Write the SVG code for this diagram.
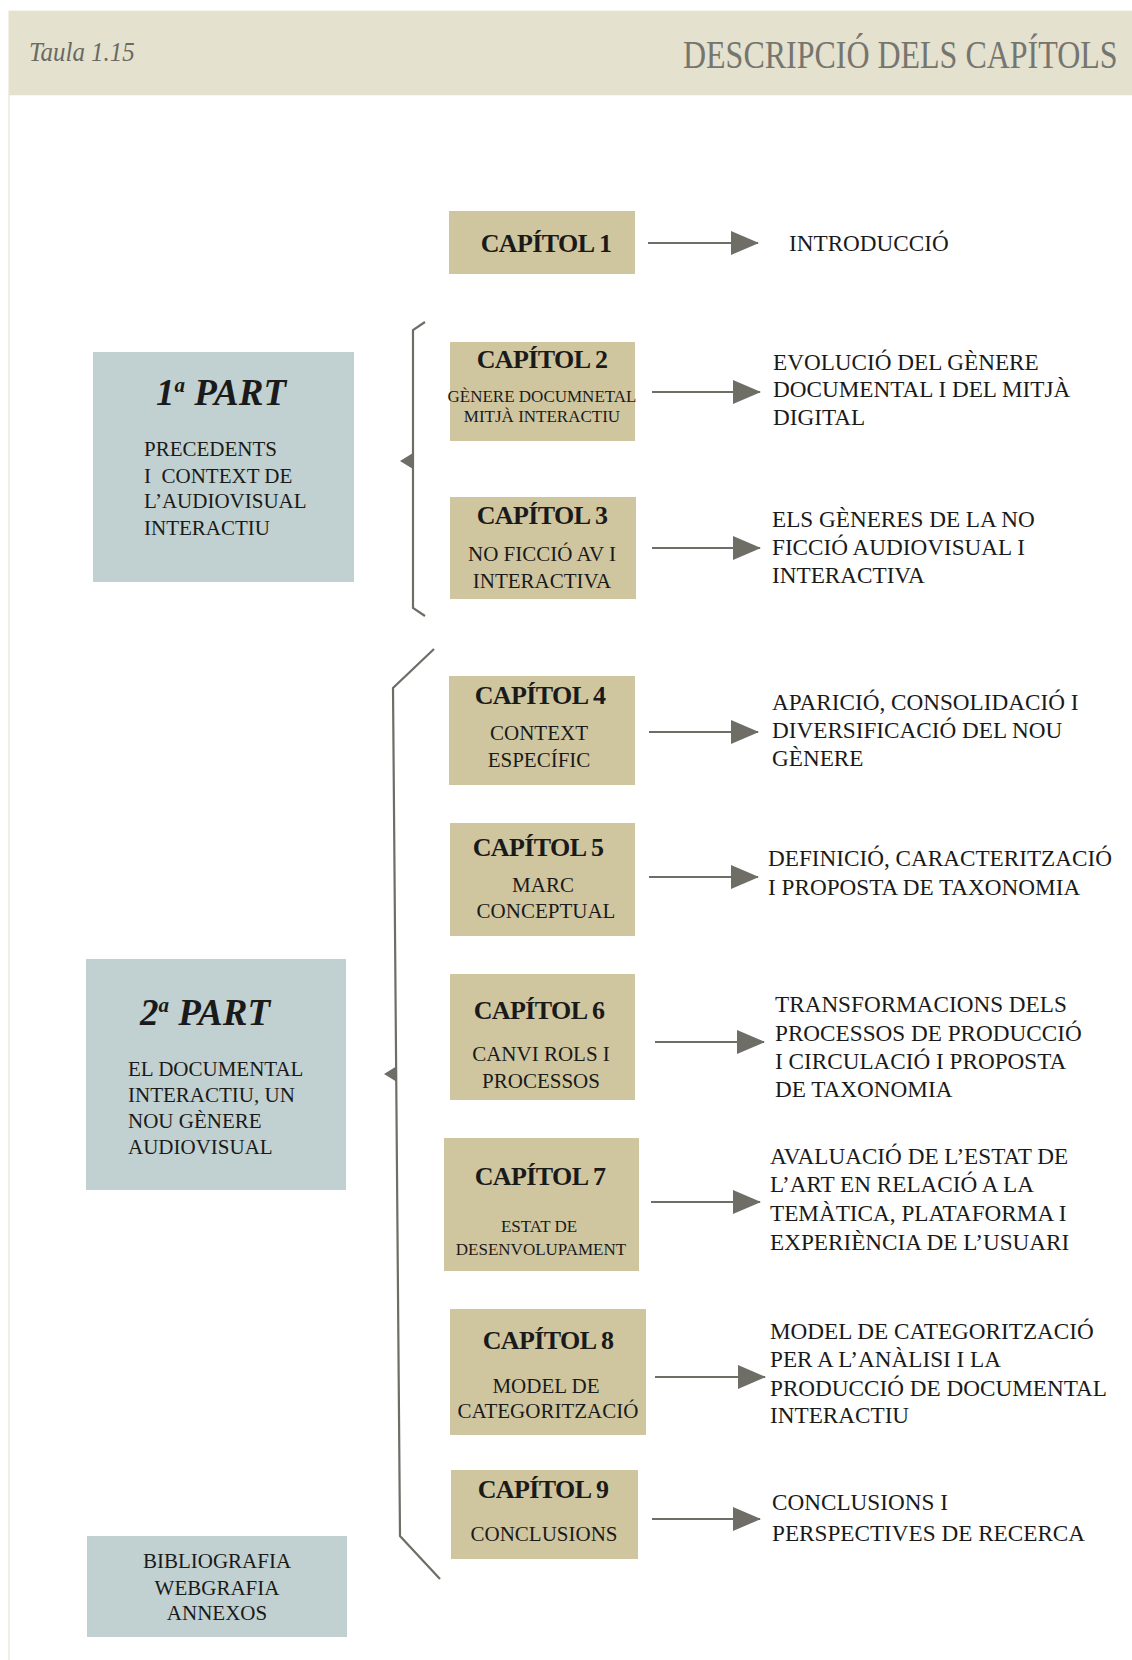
<svg xmlns="http://www.w3.org/2000/svg" width="1132" height="1660" viewBox="0 0 1132 1660">
<defs>
<style>
.chap{fill:#cfc6a0}
.part{fill:#c1d0d0}
.t{font-family:"Liberation Serif","Times New Roman",serif;fill:#1a1a1a}
.ct{font-weight:bold;font-size:26px;letter-spacing:-0.6px;text-anchor:middle}
.cs{font-size:21px;text-anchor:middle}
.css{font-size:17px;text-anchor:middle}
.desc{font-size:23.2px}
.ps{font-size:21px}
.ph{font-weight:bold;font-style:italic;font-size:37px}
.con{stroke:#6e6d66;stroke-width:2.2;fill:none}
</style>
<marker id="ah" viewBox="0 0 28 24" refX="27" refY="12" markerWidth="28" markerHeight="24" markerUnits="userSpaceOnUse" orient="auto">
<path d="M0,0 L28,12 L0,24 Z" fill="#6e6d66"/>
</marker>
</defs>
<rect width="1132" height="1660" fill="#ffffff"/>
<g id="header">
<rect x="8.5" y="10.6" width="1123.5" height="84.7" fill="#e4e1cf"/>
<line x1="9" y1="95" x2="9" y2="1660" stroke="#e6e3d6" stroke-width="1.2"/>
<text transform="translate(29,61) scale(0.89,1)" x="0" y="0" font-family="Liberation Serif, serif" font-style="italic" font-size="28" fill="#6a6a62">Taula 1.15</text>
<text transform="translate(683,68) scale(0.78,1)" x="0" y="0" font-family="Liberation Serif, serif" font-size="41" fill="#76756e">DESCRIPCIÓ DELS CAPÍTOLS</text>
</g>
<g id="connectors">
<path class="con" d="M425,322 L413,330 L413,608 L425,616"/>
<path d="M413,453 L400,461 L413,469 Z" fill="#6e6d66"/>
<path class="con" d="M434,649 L393,688 L400,1536 L440,1579"/>
<path d="M397,1066 L384,1074 L397,1082 Z" fill="#6e6d66"/>
<line class="con" x1="648" y1="243" x2="758" y2="243" marker-end="url(#ah)"/>
<line class="con" x1="652" y1="392" x2="760" y2="392" marker-end="url(#ah)"/>
<line class="con" x1="652" y1="548" x2="760" y2="548" marker-end="url(#ah)"/>
<line class="con" x1="649" y1="732" x2="758" y2="732" marker-end="url(#ah)"/>
<line class="con" x1="649" y1="877" x2="758" y2="877" marker-end="url(#ah)"/>
<line class="con" x1="655" y1="1042" x2="764" y2="1042" marker-end="url(#ah)"/>
<line class="con" x1="651" y1="1202" x2="760" y2="1202" marker-end="url(#ah)"/>
<line class="con" x1="655" y1="1377" x2="765" y2="1377" marker-end="url(#ah)"/>
<line class="con" x1="652" y1="1519" x2="760" y2="1519" marker-end="url(#ah)"/>
</g>
<g id="part1">
<rect class="part" x="93" y="352" width="261" height="230"/>
<text class="t ph" x="156" y="405">1<tspan font-size="21" dy="-13">a</tspan><tspan dy="13"> PART</tspan></text>
<text class="t ps" x="144" y="456">PRECEDENTS</text>
<text class="t ps" x="144" y="483">I&#160; CONTEXT DE</text>
<text class="t ps" x="144" y="508">L’AUDIOVISUAL</text>
<text class="t ps" x="144" y="535">INTERACTIU</text>
</g>
<g id="part2">
<rect class="part" x="86" y="959" width="260" height="231"/>
<text class="t ph" x="140" y="1025">2<tspan font-size="21" dy="-13">a</tspan><tspan dy="13"> PART</tspan></text>
<text class="t ps" x="128" y="1076">EL DOCUMENTAL</text>
<text class="t ps" x="128" y="1102">INTERACTIU, UN</text>
<text class="t ps" x="128" y="1128">NOU GÈNERE</text>
<text class="t ps" x="128" y="1154">AUDIOVISUAL</text>
</g>
<g id="annexes">
<rect class="part" x="87" y="1536" width="260" height="101"/>
<text class="t ps" x="217" y="1568" text-anchor="middle">BIBLIOGRAFIA</text>
<text class="t ps" x="217" y="1595" text-anchor="middle">WEBGRAFIA</text>
<text class="t ps" x="217" y="1620" text-anchor="middle">ANNEXOS</text>
</g>
<g id="cap1">
<rect class="chap" x="449" y="211" width="186" height="63"/>
<text class="t ct" x="546" y="252">CAPÍTOL 1</text>
</g>
<g id="cap2">
<rect class="chap" x="450" y="342" width="185" height="99"/>
<text class="t ct" x="542" y="368">CAPÍTOL 2</text>
<text class="t css" x="542" y="402">GÈNERE DOCUMNETAL</text>
<text class="t css" x="542" y="422">MITJÀ INTERACTIU</text>
</g>
<g id="cap3">
<rect class="chap" x="450" y="497" width="186" height="102"/>
<text class="t ct" x="542" y="524">CAPÍTOL 3</text>
<text class="t cs" x="542" y="561">NO FICCIÓ AV I</text>
<text class="t cs" x="542" y="588">INTERACTIVA</text>
</g>
<g id="cap4">
<rect class="chap" x="449" y="676" width="186" height="109"/>
<text class="t ct" x="540" y="704">CAPÍTOL 4</text>
<text class="t cs" x="539" y="740">CONTEXT</text>
<text class="t cs" x="539" y="767">ESPECÍFIC</text>
</g>
<g id="cap5">
<rect class="chap" x="450" y="823" width="185" height="113"/>
<text class="t ct" x="538" y="856">CAPÍTOL 5</text>
<text class="t cs" x="543" y="892">MARC</text>
<text class="t cs" x="546" y="918">CONCEPTUAL</text>
</g>
<g id="cap6">
<rect class="chap" x="450" y="974" width="185" height="126"/>
<text class="t ct" x="539" y="1019">CAPÍTOL 6</text>
<text class="t cs" x="541" y="1061">CANVI ROLS I</text>
<text class="t cs" x="541" y="1088">PROCESSOS</text>
</g>
<g id="cap7">
<rect class="chap" x="444" y="1138" width="195" height="133"/>
<text class="t ct" x="540" y="1185">CAPÍTOL 7</text>
<text class="t css" x="539" y="1232" font-size="19.5">ESTAT DE</text>
<text class="t css" x="541" y="1255" font-size="19.5">DESENVOLUPAMENT</text>
</g>
<g id="cap8">
<rect class="chap" x="450" y="1309" width="196" height="126"/>
<text class="t ct" x="548" y="1349">CAPÍTOL 8</text>
<text class="t cs" x="546" y="1393">MODEL DE</text>
<text class="t cs" x="548" y="1418">CATEGORITZACIÓ</text>
</g>
<g id="cap9">
<rect class="chap" x="451" y="1470" width="187" height="89"/>
<text class="t ct" x="543" y="1498">CAPÍTOL 9</text>
<text class="t cs" x="544" y="1541">CONCLUSIONS</text>
</g>
<g id="descriptions">
<text class="t desc" x="789" y="251">INTRODUCCIÓ</text>
<text class="t desc" x="773" y="370">EVOLUCIÓ DEL GÈNERE</text>
<text class="t desc" x="773" y="397">DOCUMENTAL I DEL MITJÀ</text>
<text class="t desc" x="773" y="425">DIGITAL</text>
<text class="t desc" x="772" y="527">ELS GÈNERES DE LA NO</text>
<text class="t desc" x="772" y="555">FICCIÓ AUDIOVISUAL I</text>
<text class="t desc" x="772" y="583">INTERACTIVA</text>
<text class="t desc" x="772" y="710">APARICIÓ, CONSOLIDACIÓ I</text>
<text class="t desc" x="772" y="738">DIVERSIFICACIÓ DEL NOU</text>
<text class="t desc" x="772" y="766">GÈNERE</text>
<text class="t desc" x="768" y="866">DEFINICIÓ, CARACTERITZACIÓ</text>
<text class="t desc" x="768" y="895">I PROPOSTA DE TAXONOMIA</text>
<text class="t desc" x="775" y="1012">TRANSFORMACIONS DELS</text>
<text class="t desc" x="775" y="1041">PROCESSOS DE PRODUCCIÓ</text>
<text class="t desc" x="775" y="1069">I CIRCULACIÓ I PROPOSTA</text>
<text class="t desc" x="775" y="1097">DE TAXONOMIA</text>
<text class="t desc" x="770" y="1164">AVALUACIÓ DE L’ESTAT DE</text>
<text class="t desc" x="770" y="1192">L’ART EN RELACIÓ A LA</text>
<text class="t desc" x="770" y="1221">TEMÀTICA, PLATAFORMA I</text>
<text class="t desc" x="770" y="1250">EXPERIÈNCIA DE L’USUARI</text>
<text class="t desc" x="770" y="1339">MODEL DE CATEGORITZACIÓ</text>
<text class="t desc" x="770" y="1367">PER A L’ANÀLISI I LA</text>
<text class="t desc" x="770" y="1396">PRODUCCIÓ DE DOCUMENTAL</text>
<text class="t desc" x="770" y="1423">INTERACTIU</text>
<text class="t desc" x="772" y="1510">CONCLUSIONS I</text>
<text class="t desc" x="772" y="1541">PERSPECTIVES DE RECERCA</text>
</g>
</svg>
